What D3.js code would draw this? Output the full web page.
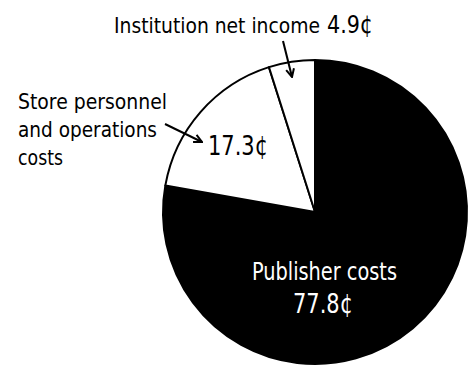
<!DOCTYPE html>
<html><head><meta charset="utf-8">
<script src="https://cdn.jsdelivr.net/npm/d3@7"></script>
<style>
html,body{margin:0;padding:0;background:#fff;}
svg{display:block;}
text{font-family:"Liberation Sans Narrow","Arial Narrow","DejaVu Sans Condensed",sans-serif;}
</style></head>
<body>
<svg id="chart" width="471" height="368"></svg>
<script>
const categories = ["Publisher costs", "Store personnel and operations costs", "Institution net income"];
const values = [77.8, 17.3, 4.9];
const fills = ["#000", "#fff", "#fff"];

const svg = d3.select("#chart");
const cx = 315, cy = 212, r = 152;
const g = svg.append("g").attr("transform", `translate(${cx},${cy})`);

const pie = d3.pie().sort(null).value(d => d)(values);
const arc = d3.arc().innerRadius(0).outerRadius(r);

g.selectAll("path.slice").data(pie).join("path")
  .attr("class", "slice")
  .attr("d", arc)
  .attr("fill", (d, i) => fills[i])
  .attr("stroke", "#000")
  .attr("stroke-width", 2)
  .attr("stroke-linejoin", "round");

svg.append("defs").append("marker")
  .attr("id", "ah").attr("viewBox", "0 0 10 10")
  .attr("refX", 9).attr("refY", 5)
  .attr("markerWidth", 10).attr("markerHeight", 10)
  .attr("markerUnits", "userSpaceOnUse")
  .attr("orient", "auto")
  .append("path").attr("d", "M1,1 L9,5 L1,9").attr("fill", "none")
  .attr("stroke", "#000").attr("stroke-width", 2);

function label(x, y, txt, size, width, fill) {
  return svg.append("text").attr("x", x).attr("y", y)
    .attr("fill", fill || "#000").style("font-size", size + "px")
    .attr("textLength", width).attr("lengthAdjust", "spacingAndGlyphs")
    .text(txt);
}

// Inside labels
label(252, 280, categories[0], 24, 145, "#fff");
label(293, 313, values[0].toFixed(1) + "¢", 27, 60, "#fff");
label(208, 155, values[1].toFixed(1) + "¢", 27, 60);

// Store label
label(18, 109, "Store personnel", 22, 149);
label(18, 137, "and operations", 22, 139);
label(18, 165, "costs", 22, 45);
svg.append("line").attr("x1", 165).attr("y1", 124).attr("x2", 202).attr("y2", 142)
  .attr("stroke", "#000").attr("stroke-width", 2).attr("marker-end", "url(#ah)");

// Institution label
label(114, 33, categories[2], 22, 206);
label(327, 33, values[2].toFixed(1) + "¢", 25, 46);
svg.append("line").attr("x1", 283).attr("y1", 41).attr("x2", 292).attr("y2", 77)
  .attr("stroke", "#000").attr("stroke-width", 2).attr("marker-end", "url(#ah)");
</script>
</body></html>
